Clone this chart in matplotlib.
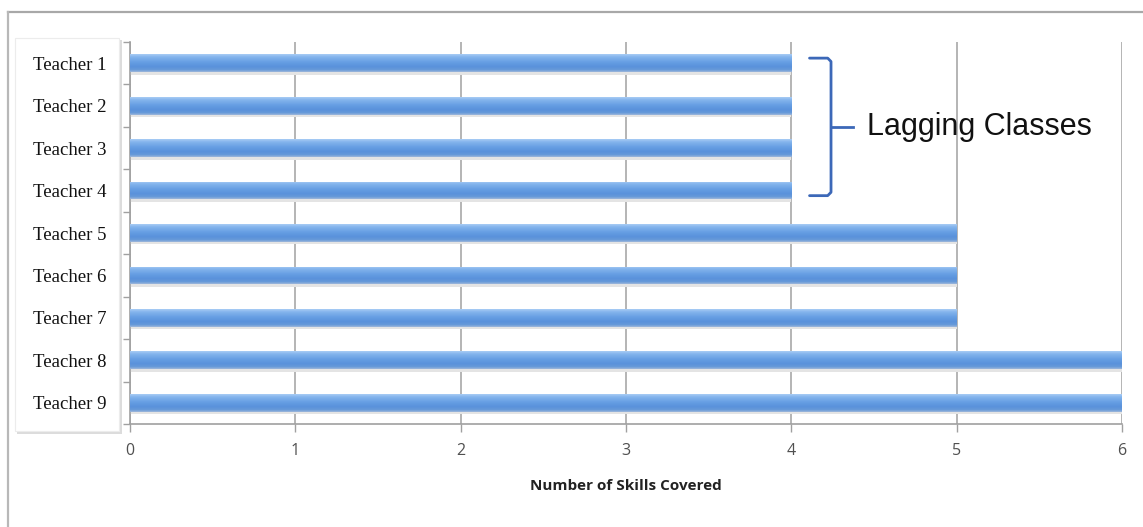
import numpy as np
import matplotlib
matplotlib.use("Agg")
import matplotlib.pyplot as plt
from matplotlib.patches import Rectangle

teachers = ["Teacher 1", "Teacher 2", "Teacher 3", "Teacher 4", "Teacher 5",
            "Teacher 6", "Teacher 7", "Teacher 8", "Teacher 9"]
skills = [4, 4, 4, 4, 5, 5, 5, 6, 6]
x_ticks = [0, 1, 2, 3, 4, 5, 6]

W, H = 1143, 527
fig = plt.figure(figsize=(W / 100, H / 100), dpi=100)

# outer frame (top and left edges only visible)
fig.add_artist(plt.Line2D([8 / W, 1], [1 - 12 / H, 1 - 12 / H], color="#a8a8a8", lw=1.6,
                          transform=fig.transFigure))
fig.add_artist(plt.Line2D([8 / W, 8 / W], [0, 1 - 12 / H], color="#b8b8b8", lw=1.6,
                          transform=fig.transFigure))

# label box with faint shadow
fig.add_artist(Rectangle((17 / W, 1 - 434 / H), 105 / W, 394 / H, transform=fig.transFigure,
                         facecolor="#dcdcdc", edgecolor="none", zorder=0))
fig.add_artist(Rectangle((15 / W, 1 - 431 / H), 104 / W, 393 / H, transform=fig.transFigure,
                         facecolor="white", edgecolor="#ececec", lw=0.8, zorder=0.5))

ax = fig.add_axes([130 / W, 1 - 424 / H, (1122 - 130) / W, (424 - 42) / H])
ax.set_zorder(2)
ax.set_facecolor("none")

y = np.arange(len(teachers))
bar_h = 0.42
bars = ax.barh(y, skills, height=bar_h, color="#5b97dc", edgecolor="none", zorder=3)

# vertical gradient on each bar
grad = np.array([0.0, 0.15, 0.45, 0.7, 0.88, 1.0])
cols = np.array([
    [0.66, 0.80, 0.96],
    [0.52, 0.71, 0.93],
    [0.40, 0.62, 0.89],
    [0.35, 0.57, 0.86],
    [0.40, 0.60, 0.85],
    [0.62, 0.72, 0.86],
])
img = np.zeros((60, 2, 3))
for c in range(3):
    img[:, 0, c] = np.interp(np.linspace(0, 1, 60), grad, cols[:, c])
img[:, 1] = img[:, 0]
for b in bars:
    x0, y0 = b.get_x(), b.get_y()
    im = ax.imshow(img, extent=(x0, x0 + b.get_width(), y0 + b.get_height(), y0),
                   aspect="auto", zorder=4, interpolation="bilinear")
    im.set_clip_path(b)

# soft shadow under each bar
ax.barh(y + bar_h / 2 + 0.03, skills, height=0.06, color="#e4e4e4", edgecolor="none", zorder=2)

ax.set_xlim(0, 6)
ax.set_ylim(len(teachers) - 0.5, -0.5)
ax.set_xticks(x_ticks)
ax.set_xticklabels([str(t) for t in x_ticks], fontsize=11.5, color="#505050", family="Open Sans")
ax.set_yticks(y)
ax.set_yticklabels(teachers, fontsize=13.5, family="Liberation Serif", color="#111111")
ax.set_yticks(np.arange(-0.5, len(teachers)), minor=True)
ax.tick_params(axis="y", which="major", length=0, pad=17)
ax.tick_params(axis="y", which="minor", length=5, color="#a0a0a0", width=1)
ax.tick_params(axis="x", which="major", length=6, color="#a0a0a0", width=1, pad=8)

ax.grid(axis="x", color="#a8a8a8", lw=1.2, zorder=1)
for s in ["top", "right"]:
    ax.spines[s].set_visible(False)
for s in ["left", "bottom"]:
    ax.spines[s].set_color("#a0a0a0")
    ax.spines[s].set_linewidth(1.2)

ax.set_xlabel("Number of Skills Covered", fontsize=11, fontweight="bold",
              family="Open Sans", color="#222222", labelpad=14)

# bracket for lagging classes
bx0, bx1, bx2 = 4.11, 4.24, 4.37
ytop, ybot, ymid = -0.12, 3.12, 1.5
bc = "#3c68b8"
ax.plot([bx0, bx1 - 0.02, bx1, bx1, bx1 - 0.02, bx0],
        [ytop, ytop, ytop + 0.08, ybot - 0.08, ybot, ybot], color=bc, lw=2, zorder=5,
        clip_on=False, solid_capstyle="round")
ax.plot([bx1, bx2], [ymid, ymid], color=bc, lw=2, zorder=5, clip_on=False)
ax.text(4.46, ymid, "Lagging Classes", fontsize=22, family="Liberation Sans",
        color="#111111", va="center", ha="left", zorder=6)

fig.savefig("out.png", dpi=100)
